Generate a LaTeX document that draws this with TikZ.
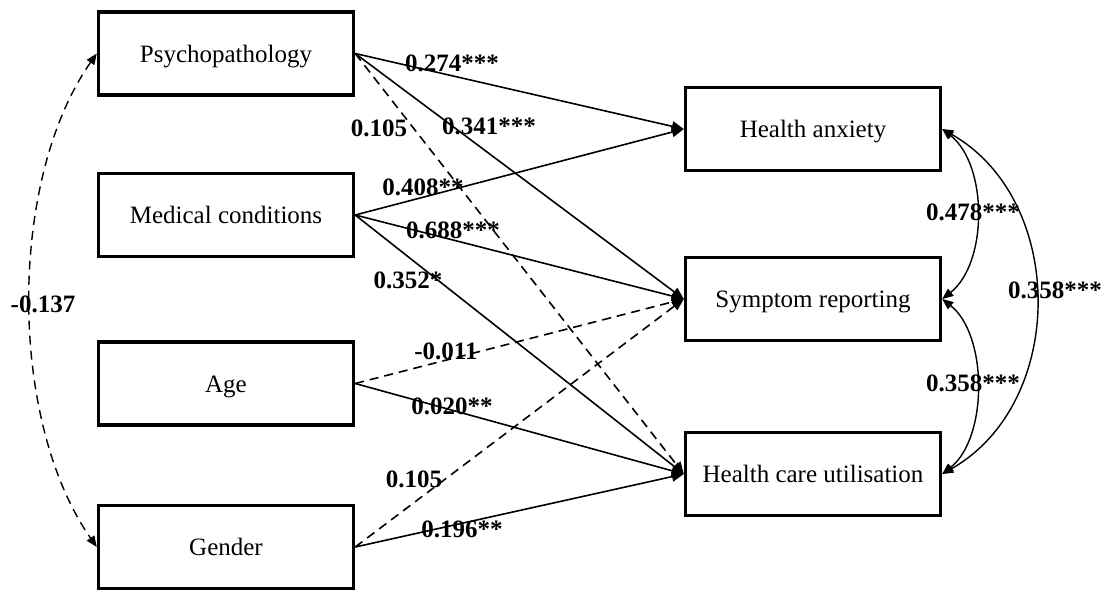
\documentclass[tikz,border=0pt]{standalone}
\usepackage{fontspec}
\setmainfont{Liberation Serif}
\usetikzlibrary{arrows.meta}
\begin{document}
\begin{tikzpicture}[x=1pt,y=-1pt,
  var/.style={draw, line width=3.4pt, minimum width=255pt, minimum height=83pt,
    inner sep=0pt, text height=17.5pt, text depth=0pt,
    font=\fontsize{25}{30}\selectfont},
  coef/.style={font=\fontsize{25}{30}\selectfont\bfseries, inner sep=0pt},
  effect/.style={line width=1.6pt, -{Triangle[length=12pt,width=10pt]}},
  ns/.style={dash pattern=on 9pt off 6pt},
  cov/.style={line width=1.4pt,
    {Triangle[length=11pt,width=9pt]}-{Triangle[length=11pt,width=9pt]}}]
\useasboundingbox (0,0) rectangle (1115,592);

% predictors
\node[var] (psy) at (226,53.5) {Psychopathology};
\node[var] (med) at (226,215) {Medical conditions};
\node[var] (age) at (226,383.5) {Age};
\node[var] (gen) at (226,547) {Gender};

% outcomes
\node[var] (ha)  at (813,129) {Health anxiety};
\node[var] (sr)  at (813,299) {Symptom reporting};
\node[var] (hcu) at (813,474) {Health care utilisation};

% regression paths (dashed = non-significant)
\draw[effect] (psy.east) -- (ha.west);
\draw[effect] (psy.east) -- (sr.west);
\draw[effect, ns] (psy.east) -- (hcu.west);
\draw[effect] (med.east) -- (ha.west);
\draw[effect] (med.east) -- (sr.west);
\draw[effect] (med.east) -- (hcu.west);
\draw[effect, ns] (age.east) -- (sr.west);
\draw[effect] (age.east) -- (hcu.west);
\draw[effect, ns] (gen.east) -- (sr.west);
\draw[effect] (gen.east) -- (hcu.west);

% covariances
\draw[cov, ns] (psy.west) .. controls (8,180) and (8,420) .. (gen.west);
\draw[cov] (ha.east) .. controls (988,165) and (988,263) .. (sr.east);
\draw[cov] (sr.east) .. controls (988,335) and (988,438) .. (hcu.east);
\draw[cov] (ha.east) .. controls (1067,200) and (1067,403) .. (hcu.east);

% coefficients
\node[coef] (c1)  at (452,63)  {0.274***};
\node[coef] (c2)  at (489,126) {0.341***};
\node[coef] (c3)  at (379,128) {0.105};
\node[coef] (c4)  at (423,187) {0.408**};
\node[coef] (c5)  at (453,230) {0.688***};
\node[coef] (c6)  at (408,280) {0.352*};
\node[coef] (c7)  at (446,351) {-0.011};
\node[coef] (c8)  at (452,406) {0.020**};
\node[coef] (c9)  at (414,479) {0.105};
\node[coef] (c10) at (462,529) {0.196**};
\node[coef] (c11) at (43,304)  {-0.137};
\node[coef] (c12) at (973,212) {0.478***};
\node[coef] (c13) at (973,383) {0.358***};
\node[coef] (c14) at (1055,290) {0.358***};
\end{tikzpicture}
\end{document}
